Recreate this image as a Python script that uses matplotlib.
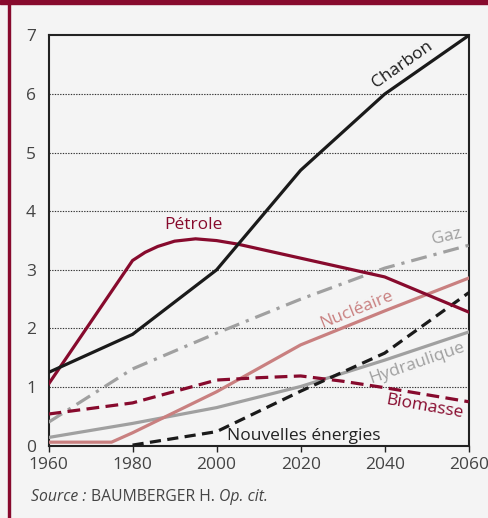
import numpy as np
import matplotlib
matplotlib.use("Agg")
import matplotlib.pyplot as plt
from matplotlib.patches import Rectangle

plt.rcParams['font.family'] = ['Open Sans', 'DejaVu Sans']

# années et séries
charbon_x = [1960, 1980, 2000, 2020, 2040, 2060]
charbon_y = [1.25, 1.9, 3.0, 4.7, 6.0, 7.0]

petrole_x = [1960, 1980, 1983, 1986, 1990, 1995, 2000, 2005, 2010, 2020, 2040, 2060]
petrole_y = [1.05, 3.16, 3.3, 3.4, 3.49, 3.53, 3.5, 3.44, 3.36, 3.2, 2.88, 2.28]

gaz_x = [1960, 1980, 2000, 2020, 2040, 2060]
gaz_y = [0.4, 1.31, 1.92, 2.5, 3.03, 3.42]

nucleaire_x = [1960, 1975, 1980, 2000, 2020, 2040, 2060]
nucleaire_y = [0.06, 0.06, 0.22, 0.92, 1.72, 2.3, 2.86]

hydro_x = [1960, 1980, 2000, 2020, 2040, 2060]
hydro_y = [0.14, 0.38, 0.65, 1.01, 1.46, 1.94]

biomasse_x = [1960, 1980, 2000, 2010, 2020, 2030, 2040, 2050, 2060]
biomasse_y = [0.54, 0.73, 1.12, 1.16, 1.19, 1.1, 0.99, 0.87, 0.75]

nouvelles_x = [1980, 2000, 2020, 2040, 2060]
nouvelles_y = [0.01, 0.24, 0.93, 1.58, 2.61]

xticks = [1960, 1980, 2000, 2020, 2040, 2060]
yticks = [0, 1, 2, 3, 4, 5, 6, 7]

rouge = '#870A2D'
rose = '#C98080'
gris = '#A0A0A0'
fond = '#F4F4F4'

fig = plt.figure(figsize=(4.89, 5.18), dpi=100, facecolor=fond)
ax = fig.add_axes([0.0992, 0.1396, 0.8593, 0.7919])
ax.set_facecolor(fond)

# cadre rouge (barre du haut + trait à gauche)
fig.patches.append(Rectangle((0, 1 - 3.5/518), 1, 3.5/518, transform=fig.transFigure,
                             color=rouge, zorder=0))
fig.patches.append(Rectangle((8.3/489, 0), 2.0/489, 1, transform=fig.transFigure,
                             color=rouge, zorder=0))

for v in range(1, 7):
    ax.axhline(v, color='#333333', lw=0.8, ls=(0, (1.2, 1.2)), zorder=1)

lw = 2.3
ax.plot(gaz_x, gaz_y, color=gris, lw=lw, ls=(0, (5, 2.2, 1, 2.2)), zorder=3)
ax.plot(hydro_x, hydro_y, color=gris, lw=lw, zorder=3)
ax.plot(nucleaire_x, nucleaire_y, color=rose, lw=lw, zorder=3)
ax.plot(biomasse_x, biomasse_y, color=rouge, lw=lw, ls=(0, (4, 2)), zorder=3)
ax.plot(nouvelles_x, nouvelles_y, color='#1A1A1A', lw=lw, ls=(0, (3.5, 2)), zorder=3)
ax.plot(petrole_x, petrole_y, color=rouge, lw=lw, zorder=4)
ax.plot(charbon_x, charbon_y, color='#1A1A1A', lw=lw, zorder=4)

ax.set_xlim(1960, 2060)
ax.set_ylim(0, 7)
ax.set_xticks(xticks)
ax.set_yticks(yticks)
ax.tick_params(axis='x', direction='out', length=4, width=1, color='#222222',
               labelsize=12.5, labelcolor='#444444', pad=4)
ax.tick_params(axis='y', length=0, labelsize=12.5, labelcolor='#444444', pad=9)
for s in ax.spines.values():
    s.set_color('#222222')
    s.set_linewidth(1.5)

fs = 12.5
ax.text(2044.3, 6.5, 'Charbon', color='#1A1A1A', fontsize=fs, rotation=35,
        ha='center', va='center')
ax.text(1994.6, 3.77, 'Pétrole', color=rouge, fontsize=fs, ha='center', va='center')
ax.text(2054.8, 3.57, 'Gaz', color=gris, fontsize=fs, rotation=13, ha='center', va='center')
ax.text(2033.3, 2.32, 'Nucléaire', color=rose, fontsize=fs, rotation=22,
        ha='center', va='center')
ax.text(2047.6, 1.41, 'Hydraulique', color=gris, fontsize=fs, rotation=19,
        ha='center', va='center')
ax.text(2049.6, 0.67, 'Biomasse', color=rouge, fontsize=fs, rotation=-10,
        ha='center', va='center')
ax.text(2020.8, 0.17, 'Nouvelles énergies', color='#222222', fontsize=fs,
        ha='center', va='center')

# source, en plusieurs morceaux (italique / droit)
fig.canvas.draw()
r = fig.canvas.get_renderer()
x = 31.5 / 489
y = 1 - 497 / 518
for txt, style in [('Source : ', 'italic'), ('BAUMBERGER H. ', 'normal'), ('Op. cit.', 'italic')]:
    t = fig.text(x, y, txt, fontsize=11.3, style=style, color='#444444', va='center')
    bb = t.get_window_extent(renderer=r)
    x += bb.width / fig.bbox.width

plt.savefig('out.png', dpi=100, facecolor=fond)
